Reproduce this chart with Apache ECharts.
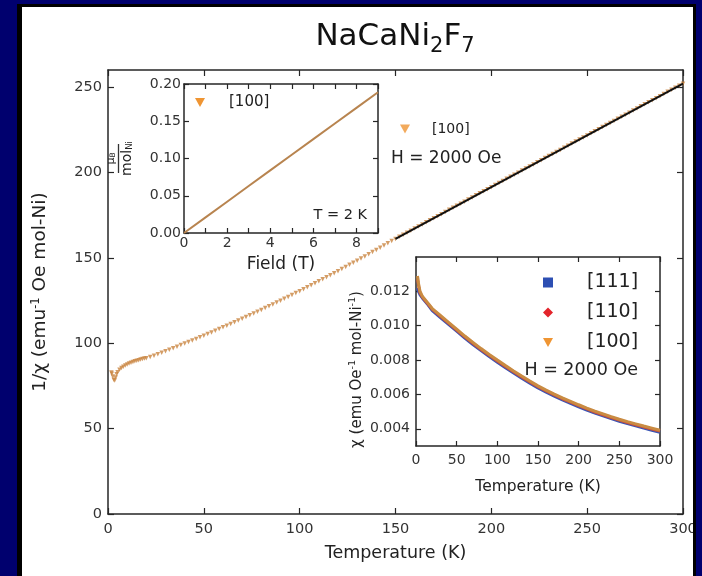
<!DOCTYPE html>
<html><head><meta charset="utf-8">
<script src="https://cdn.jsdelivr.net/npm/echarts@6/dist/echarts.min.js"></script>
<style>html,body{margin:0;padding:0;background:#00006e;}#c{width:702px;height:576px;}</style>
</head><body><div id="c"></div>
<script>
// ---------- data ----------
const mainTemps = [1.8,2,2.5,3,3.5,4,4.5,5,6,7,8,9,10,11,12,13,14,15,16,17,18,19,
20,22,24,26,28,30,32,34,36,38,40,42,44,46,48,50,52,54,56,58,60,62,64,66,68,70,72,74,76,78,80,82,84,86,88,90,92,94,96,98,100,102,104,106,108,110,112,114,116,118,120,122,124,126,128,130,132,134,136,138,140,142,144,146,148,150,
152,154,156,158,160,162,164,166,168,170,172,174,176,178,180,182,184,186,188,190,192,194,196,198,200,202,204,206,208,210,212,214,216,218,220,222,224,226,228,230,232,234,236,238,240,242,244,246,248,250,252,254,256,258,260,262,264,266,268,270,272,274,276,278,280,282,284,286,288,290,292,294,296,298,300];
const mainInvChi = [82.8,82.2,80.5,78.6,78.2,80.0,81.8,83.0,84.5,85.5,86.3,87.0,87.6,88.1,88.6,89.0,89.4,89.8,90.1,90.4,90.7,91.0,
91.2,91.9,92.7,93.6,94.4,95.3,96.2,97.1,98.0,98.9,99.8,100.7,101.6,102.5,103.5,104.4,105.4,106.3,107.3,108.3,109.3,110.3,111.3,112.3,113.3,114.3,115.3,116.4,117.4,118.5,119.5,120.6,121.6,122.7,123.8,124.9,126.0,127.1,128.2,129.4,130.5,131.6,132.8,133.9,135.1,136.3,137.4,138.6,139.8,141.0,142.2,143.4,144.6,145.9,147.1,148.3,149.6,150.8,152.1,153.4,154.6,155.9,157.2,158.5,159.8,161.1,
162.3,163.5,164.7,165.9,167.2,168.4,169.6,170.8,172.0,173.2,174.4,175.6,176.9,178.1,179.3,180.5,181.7,182.9,184.1,185.3,186.6,187.8,189.0,190.2,191.4,192.6,193.8,195.0,196.3,197.5,198.7,199.9,201.1,202.3,203.5,204.7,206.0,207.2,208.4,209.6,210.8,212.0,213.2,214.4,215.6,216.9,218.1,219.3,220.5,221.7,222.9,224.1,225.3,226.6,227.8,229.0,230.2,231.4,232.6,233.8,235.0,236.3,237.5,238.7,239.9,241.1,242.3,243.5,244.7,246.0,247.2,248.4,249.6,250.8,252.0];
const fitTemps = [150, 300];
const fitInvChi = [161.1, 252.0];

const fieldT = [0,1,2,3,4,5,6,7,8,9];
const momentMuB = [0,0.021,0.042,0.063,0.084,0.105,0.126,0.147,0.168,0.189];

const insetTemps = [1.8,2,2.5,3,4,5,6,8,10,15,20,30,40,50,60,70,80,90,100,110,120,130,140,150,160,170,180,190,200,210,220,230,240,250,260,270,280,290,300];
const chi111 = [0.0122,0.0122,0.0121,0.0120,0.0119,0.0118,0.0117,0.0116,0.0115,0.0112,0.01088,0.01048,0.01008,0.00968,0.00928,0.00891,0.00855,0.00821,0.00788,0.00756,0.00725,0.00695,0.00666,0.00638,0.00613,0.0059,0.00568,0.00548,0.00528,0.00509,0.00491,0.00475,0.00459,0.00444,0.0043,0.00417,0.00404,0.00392,0.0038];
const chi110 = [0.0127,0.0127,0.0126,0.0124,0.0121,0.0119,0.0118,0.01165,0.01155,0.01125,0.01095,0.01055,0.01015,0.00975,0.00935,0.00898,0.00862,0.00828,0.00795,0.00763,0.00732,0.00702,0.00673,0.00645,0.0062,0.00597,0.00575,0.00555,0.00535,0.00516,0.00498,0.00482,0.00466,0.00451,0.00437,0.00424,0.00411,0.00399,0.00387];
const chi100 = [0.0129,0.0128,0.0127,0.0125,0.0122,0.0120,0.0119,0.0117,0.0116,0.0113,0.0110,0.0106,0.0102,0.0098,0.0094,0.00903,0.00867,0.00833,0.0080,0.00768,0.00737,0.00707,0.00678,0.0065,0.00625,0.00602,0.0058,0.0056,0.0054,0.00521,0.00503,0.00487,0.00471,0.00456,0.00442,0.00429,0.00416,0.00404,0.00392];

const mainXTicks = [0,50,100,150,200,250,300];
const mainYTicks = [0,50,100,150,200,250];
const fieldLabelTicks = [0,2,4,6,8];
const fieldMinorTicks = [0,1,2,3,4,5,6,7,8,9];
const momentTicks = [0,0.05,0.10,0.15,0.20];
const insetXTicks = [0,50,100,150,200,250,300];
const chiTicks = [0.004,0.006,0.008,0.010,0.012];
const legendLabels = {main100:'[100]', field100:'[100]', chi111:'[111]', chi110:'[110]', chi100:'[100]'};

// ---------- helpers ----------
const FONT = 'DejaVu Sans';
const AX = '#262626';
const TXT = '#333';
function zip(a, b){ const n = Math.min(a.length, b.length); const r = []; for (let i=0;i<n;i++) r.push([a[i], b[i]]); return r; }
function axis(dim, gi, pos, min, max, labels, ticks, fmt, fs, margin, tickLen, extra){
  const o = {gridIndex:gi, type:'value', position:pos, min:min, max:max,
    axisLine:{show:true, onZero:false, lineStyle:{color:AX, width:1.5}},
    axisTick:{show:true, inside:true, length:tickLen, customValues:ticks, lineStyle:{color:AX, width:1.2}},
    axisLabel:{show: labels !== null, customValues: labels || undefined, margin:margin, fontSize:fs, color:TXT, fontFamily:FONT, formatter: fmt},
    splitLine:{show:false}};
  return Object.assign(o, extra || {});
}
const TRI = 'path://M0,0L10,0L5,9Z';
const legendIconStyle = c => ({color:c, borderWidth:0});

const chart = echarts.init(document.getElementById('c'), null, {renderer:'canvas'});
chart.setOption({
  backgroundColor:'transparent',
  animation:false,
  grid:[
    {left:108, top:70, width:575, height:444, show:false},
    {left:184, top:84, width:194, height:149, show:true, backgroundColor:'#fff', borderWidth:0},
    {left:416, top:257, width:244, height:189, show:true, backgroundColor:'#fff', borderWidth:0}
  ],
  xAxis:[
    axis('x',0,'bottom',0,300,mainXTicks,mainXTicks,v=>String(v),14.5,8,6,
      {name:'Temperature (K)', nameLocation:'middle', nameGap:30, nameTextStyle:{fontSize:17.5, color:'#222', fontFamily:FONT}}),
    axis('x',0,'top',0,300,null,mainXTicks,null,14.5,8,6),
    axis('x',1,'bottom',0,9,fieldLabelTicks,fieldMinorTicks,v=>String(v),14,3,5,
      {name:'Field (T)', nameLocation:'middle', nameGap:23, nameTextStyle:{fontSize:17, color:'#222', fontFamily:FONT}}),
    axis('x',1,'top',0,9,null,fieldMinorTicks,null,14,3,5),
    axis('x',2,'bottom',0,300,insetXTicks,insetXTicks,v=>String(v),14,7,5,
      {name:'Temperature (K)', nameLocation:'middle', nameGap:33, nameTextStyle:{fontSize:15.5, color:'#222', fontFamily:FONT}}),
    axis('x',2,'top',0,300,null,insetXTicks,null,14,7,5)
  ],
  yAxis:[
    axis('y',0,'left',0,260,mainYTicks,mainYTicks,v=>String(v),14.5,6,6,
      {name:'1/χ (emu{sup|-1} Oe mol-Ni)', nameLocation:'middle', nameGap:57, nameRotate:90,
       nameTextStyle:{fontSize:18.5, color:'#222', fontFamily:FONT, lineHeight:21,
         rich:{sup:{fontSize:11.5, fontFamily:FONT, color:'#222', verticalAlign:'top', lineHeight:12}}}}),
    axis('y',0,'right',0,260,null,mainYTicks,null,14.5,6,6),
    axis('y',1,'left',0,0.2,momentTicks,momentTicks,v=>v.toFixed(2),14,3,5,
      {name:'{mu|μ}{sb|B}\n{bar| }\n{mol|mol}{sn|Ni}', nameLocation:'middle', nameGap:50, nameRotate:90,
       nameTextStyle:{color:'#222', fontFamily:FONT, align:'center',
         rich:{mu:{fontSize:11, fontFamily:FONT, color:'#222', align:'center'},
               sb:{fontSize:7.5, fontFamily:FONT, color:'#222', verticalAlign:'bottom'},
               bar:{width:29, height:1.3, fontSize:1, lineHeight:3, backgroundColor:'#333', align:'center'},
               mol:{fontSize:14, fontFamily:FONT, color:'#222'},
               sn:{fontSize:8.5, fontFamily:FONT, color:'#222', verticalAlign:'bottom'}}}}),
    axis('y',1,'right',0,0.2,null,momentTicks,null,14,3,5),
    axis('y',2,'left',0.003,0.014,chiTicks,chiTicks,v=>v.toFixed(3),14,6,5,
      {name:'χ (emu Oe{sup|-1} mol-Ni{sup|-1})', nameLocation:'middle', nameGap:50, nameRotate:90,
       nameTextStyle:{fontSize:15, color:'#222', fontFamily:FONT, lineHeight:18, padding:[0,36,0,0],
         rich:{sup:{fontSize:9.5, fontFamily:FONT, color:'#222', verticalAlign:'top', lineHeight:10}}}}),
    axis('y',2,'right',0.003,0.014,null,chiTicks,null,14,6,5)
  ],
  legend:[
    {data:[{name:'main100', icon:TRI, itemStyle:legendIconStyle('#ef9533')}], left:400, top:122, padding:0, itemWidth:10, itemHeight:9, selectedMode:false,
     formatter:n=>legendLabels[n], textStyle:{fontSize:14, fontFamily:FONT, color:'#222', padding:[0,0,0,17]}},
    {data:[{name:'field100', icon:TRI, itemStyle:legendIconStyle('#ef9533')}], left:195, top:95, padding:0, itemWidth:10, itemHeight:9, selectedMode:false,
     formatter:n=>legendLabels[n], textStyle:{fontSize:15, fontFamily:FONT, color:'#222', padding:[0,0,0,19]}},
    {data:[{name:'chi111', icon:'rect', itemStyle:legendIconStyle('#2d4fb3')},
           {name:'chi110', icon:'diamond', itemStyle:legendIconStyle('#e3242b')},
           {name:'chi100', icon:TRI, itemStyle:legendIconStyle('#ef9533')}],
     orient:'vertical', left:543, top:273, padding:0, itemGap:11, itemWidth:10, itemHeight:10, selectedMode:false,
     formatter:n=>legendLabels[n], textStyle:{fontSize:19, fontFamily:FONT, color:'#222', padding:[0,0,0,29]}}
  ],
  series:[
    {name:'main100', type:'scatter', xAxisIndex:0, yAxisIndex:0, data:zip(mainTemps, mainInvChi),
     symbol:'triangle', symbolRotate:180, symbolSize:4.5, itemStyle:{color:'#c98540'}, z:2},
    {name:'fit', type:'line', xAxisIndex:0, yAxisIndex:0, data:zip(fitTemps, fitInvChi),
     symbol:'none', lineStyle:{color:'#111', width:2}, z:3},
    {name:'field100', type:'line', xAxisIndex:2, yAxisIndex:2, data:zip(fieldT, momentMuB),
     symbol:'none', lineStyle:{color:'#b8844f', width:2}, itemStyle:{color:'#ef9533'}, z:3},
    {name:'chi111', type:'line', xAxisIndex:4, yAxisIndex:4, data:zip(insetTemps, chi111),
     symbol:'none', lineStyle:{color:'#3a55b5', width:3}, itemStyle:{color:'#2d4fb3'}, z:3},
    {name:'chi110', type:'line', xAxisIndex:4, yAxisIndex:4, data:zip(insetTemps, chi110),
     symbol:'none', lineStyle:{color:'#c9503a', width:3}, itemStyle:{color:'#e3242b'}, z:4},
    {name:'chi100', type:'line', xAxisIndex:4, yAxisIndex:4, data:zip(insetTemps, chi100),
     symbol:'none', lineStyle:{color:'#c98b42', width:3}, itemStyle:{color:'#ef9533'}, z:5}
  ],
  graphic:[
    {type:'rect', z:-20, silent:true, shape:{x:0,y:0,width:702,height:576}, style:{fill:'#00006e'}},
    {type:'rect', z:-19, silent:true, shape:{x:17,y:4,width:678,height:572}, style:{fill:'#000'}},
    {type:'rect', z:-18, silent:true, shape:{x:22,y:7,width:671,height:569}, style:{fill:'#fff'}},
    {type:'rect', z:100, silent:true, shape:{x:693,y:4,width:3,height:572}, style:{fill:'#000'}},
    {type:'rect', z:100, silent:true, shape:{x:696,y:0,width:6,height:576}, style:{fill:'#00006e'}},
    {type:'text', z:10, x:395, y:38, style:{text:'{a|NaCaNi}{b|2}{a|F}{b|7}', align:'center', verticalAlign:'middle',
      rich:{a:{fontSize:31, fontFamily:FONT, fill:'#111', color:'#111', lineHeight:33, verticalAlign:'top'},
            b:{fontSize:21, fontFamily:FONT, fill:'#111', color:'#111', lineHeight:33, verticalAlign:'top', padding:[15,0,0,0]}}}},
    {type:'text', z:10, x:391, y:159, style:{text:'H = 2000 Oe', fontSize:17, fontFamily:FONT, fill:'#222', align:'left', verticalAlign:'middle'}},
    {type:'text', z:10, x:367, y:215, style:{text:'T = 2 K', fontSize:14.5, fontFamily:FONT, fill:'#222', align:'right', verticalAlign:'middle'}},
    {type:'text', z:10, x:638, y:370, style:{text:'H = 2000 Oe', fontSize:17.5, fontFamily:FONT, fill:'#222', align:'right', verticalAlign:'middle'}}
  ]
});
</script>
</body></html>
